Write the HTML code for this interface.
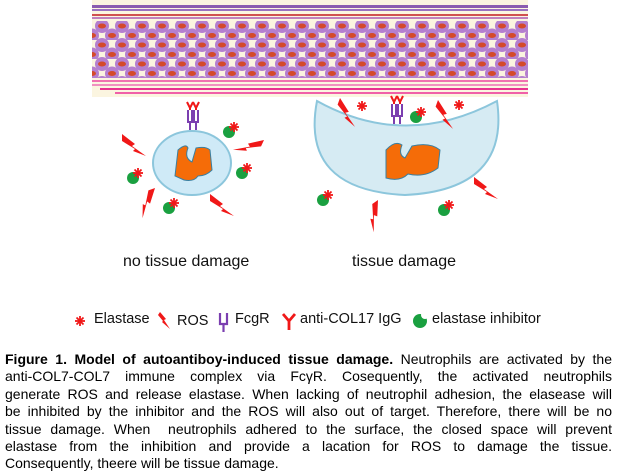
<!DOCTYPE html>
<html><head><style>
body{margin:0;width:617px;height:474px;background:#fff;overflow:hidden;font-family:"Liberation Sans",Arial,sans-serif;position:relative}
.cap{position:absolute;left:5px;top:351px;width:607px;font-size:14px;line-height:17.4px;color:#000}
.cap div{text-align:justify;text-align-last:justify;white-space:nowrap;height:17.4px}
.cap div.l{text-align-last:left}
.lb{position:absolute;font-size:16px;color:#111}
.lg{position:absolute;top:311px;font-size:14.5px;color:#111}
</style></head><body>
<svg width="617" height="474" style="position:absolute;left:0;top:0">
<defs>
<pattern id="cells" x="92" y="21" width="40" height="19" patternUnits="userSpaceOnUse">
<rect width="40" height="19" fill="#fbf5e0"/>
<circle cx="10" cy="5" r="7" fill="#b47fcf"/><circle cx="30" cy="5" r="7" fill="#b47fcf"/>
<circle cx="0" cy="14.5" r="7" fill="#b47fcf"/><circle cx="20" cy="14.5" r="7" fill="#b47fcf"/><circle cx="40" cy="14.5" r="7" fill="#b47fcf"/>
<circle cx="10" cy="24" r="7" fill="#b47fcf"/><circle cx="30" cy="24" r="7" fill="#b47fcf"/>
<ellipse cx="10" cy="5" rx="4" ry="2.5" fill="#d44a2a"/><ellipse cx="30" cy="5" rx="4" ry="2.5" fill="#d44a2a"/>
<ellipse cx="0" cy="14.5" rx="4" ry="2.5" fill="#d44a2a"/><ellipse cx="20" cy="14.5" rx="4" ry="2.5" fill="#d44a2a"/><ellipse cx="40" cy="14.5" rx="4" ry="2.5" fill="#d44a2a"/>
</pattern>
<g id="bolt"><polygon points="0,0 13,10 10,12 24,22 11,17 13,15 0,7" fill="#f01818"/></g>
<g id="star"><g stroke="#f01818" stroke-width="1.8"><line x1="-5" y1="0" x2="5" y2="0"/><line x1="0" y1="-5" x2="0" y2="5"/><line x1="-3.5" y1="-3.5" x2="3.5" y2="3.5"/><line x1="-3.5" y1="3.5" x2="3.5" y2="-3.5"/></g></g>
<g id="inh"><circle cx="0" cy="0" r="6" fill="#1aa040"/><use href="#star" x="5" y="-5"/></g>
<g id="rec"><path d="M-5,-8 V4 H-1 V-8 M1,-8 V4 H5 V-8 M-3,4 V12 M3,4 V12" stroke="#7b3fb0" stroke-width="2" fill="none"/><path d="M-6,-16 L-3,-10 L0,-16 M0,-16 L3,-10 L6,-16 M-3,-10 V-8 M3,-10 V-8" stroke="#f01818" stroke-width="2" fill="none"/></g>
</defs>
<rect x="92" y="0" width="436" height="97" fill="#fbf5e0"/>
<rect x="92" y="5" width="436" height="3" fill="#8a5cb0"/>
<rect x="92" y="9" width="436" height="2" fill="#9a70c0"/>
<rect x="92" y="14" width="436" height="2" fill="#d05050"/>
<rect x="92" y="17" width="436" height="2" fill="#c080c0"/>
<rect x="92" y="21" width="436" height="57" fill="url(#cells)"/>
<rect x="92" y="80" width="436" height="2" fill="#f070b0"/>
<rect x="92" y="84" width="436" height="2" fill="#f090c0"/>
<rect x="100" y="88" width="428" height="2" fill="#e83090"/>
<rect x="115" y="92" width="413" height="2" fill="#f060a8"/>
<ellipse cx="192" cy="163" rx="39" ry="32" fill="#cfeaf7" stroke="#8cc6dc" stroke-width="2"/>
<path d="M178,150 Q186,143 188,148 Q184,158 192,162 L196,148 Q206,146 210,150 L212,170 Q206,176 198,176 Q194,182 184,180 L175,176 Z" fill="#f56c08" stroke="#3a7fa0" stroke-width="1"/>
<use href="#rec" x="193" y="118"/>
<use href="#inh" x="229" y="132"/><use href="#inh" x="242" y="173"/><use href="#inh" x="133" y="178"/><use href="#inh" x="169" y="208"/>
<use href="#bolt" x="122" y="134"/><use href="#bolt" transform="translate(264,140) scale(-1,1) rotate(-25)"/>
<use href="#bolt" transform="translate(155,188) rotate(70)"/><use href="#bolt" x="210" y="194"/>
<path d="M317,101 Q405,150 497,101 Q510,190 405,195 Q300,190 317,101 Z" fill="#d6ebf3" stroke="#8cc6dc" stroke-width="2"/>
<path d="M386,150 Q395,140 402,145 Q398,155 405,158 L412,146 Q430,142 440,150 L438,168 Q425,178 408,174 Q400,182 386,178 Z" fill="#f56c08" stroke="#3a7fa0" stroke-width="1"/>
<use href="#rec" x="397" y="112"/>
<use href="#inh" x="416" y="117"/><use href="#inh" x="323" y="200"/><use href="#inh" x="444" y="210"/>
<use href="#bolt" transform="translate(340,98) rotate(20)"/><use href="#star" x="362" y="106"/>
<use href="#bolt" transform="translate(438,100) rotate(20)"/><use href="#star" x="459" y="105"/>
<use href="#bolt" x="474" y="177"/><use href="#bolt" transform="translate(378,200) rotate(55)"/>
<use href="#star" x="80" y="321"/>
<polygon points="160,312 166,319 164,320 170,329 162,322 163,321 158,315" fill="#f01818"/>
<path d="M220,313 V324 H227 V313 M223.5,324 V332" stroke="#7b3fb0" stroke-width="2.2" fill="none"/>
<path d="M283,314 L289,321 L295,314 M289,321 V330" stroke="#f01818" stroke-width="2.8" fill="none"/>
<circle cx="420" cy="321" r="7" fill="#1aa040"/><circle cx="425" cy="315" r="4" fill="#fff"/>
</svg>
<div class="lb" style="left:123px;top:253px">no tissue damage</div>
<div class="lb" style="left:352px;top:253px">tissue damage</div>
<div class="lg" style="left:94px">Elastase</div>
<div class="lg" style="left:177px;top:313px">ROS</div>
<div class="lg" style="left:235px">FcgR</div>
<div class="lg" style="left:300px">anti-COL17 IgG</div>
<div class="lg" style="left:432px">elastase inhibitor</div>
<div class="cap">
<div><b>Figure 1. Model of autoantiboy-induced tissue damage.</b> Neutrophils are activated by the</div>
<div>anti-COL7-COL7 immune complex via FcγR. Cosequently, the activated neutrophils</div>
<div>generate ROS and release elastase. When lacking of neutrophil adhesion, the elasease will</div>
<div>be inhibited by the inhibitor and the ROS will also out of target. Therefore, there will be no</div>
<div>tissue damage. When &nbsp;neutrophils adhered to the surface, the closed space will prevent</div>
<div>elastase from the inhibition and provide a lacation for ROS to damage the tissue.</div>
<div class="l">Consequently, theere will be tissue damage.</div>
</div>
</body></html>
